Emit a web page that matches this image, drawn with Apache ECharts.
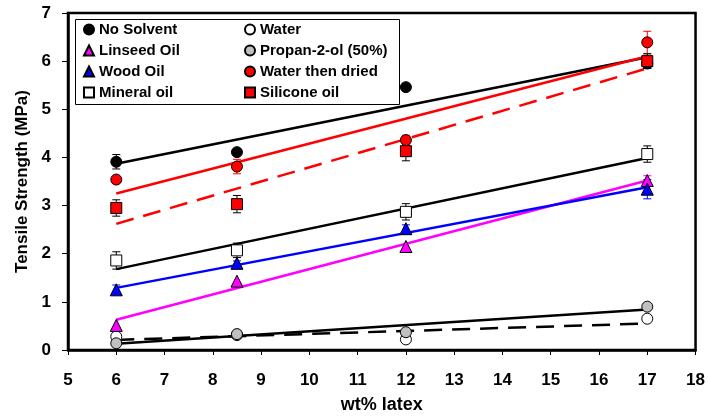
<!DOCTYPE html>
<html><head><meta charset="utf-8">
<script src="https://cdn.jsdelivr.net/npm/echarts@6/dist/echarts.min.js"></script>
<style>html,body{margin:0;padding:0;background:#fff}#c{width:708px;height:419px}</style>
</head><body><div id="c"></div>
<script>
// ---- data ----
const xs = [6, 8.5, 12, 17];
const noSolvent  = [3.91, 4.11, 5.46, 5.95];
const water      = [0.28, 0.31, 0.22, 0.65];
const linseed    = [0.51, 1.43, 2.15, 3.52];
const propanol   = [0.14, 0.33, 0.37, 0.90];
const woodOil    = [1.25, 1.80, 2.52, 3.34];
const waterDried = [3.54, 3.81, 4.36, 6.39];
const mineral    = [1.86, 2.07, 2.87, 4.07];
const silicone   = [2.95, 3.03, 4.13, 6.00];

const errNoSolvent  = [0.15, 0, 0, 0.10];
const errWater      = [0, 0, 0, 0];
const errLinseed    = [0, 0, 0, 0.10];
const errPropanol   = [0, 0, 0, 0];
const errWoodOil    = [0.10, 0.05, 0.08, 0.20];
const errWaterDried = [0, 0.15, 0.10, 0.23];
const errMineral    = [0.18, 0.15, 0.17, 0.17];
const errSilicone   = [0.17, 0.18, 0.20, 0.15];

// trend lines: values at the ends (x = 6 and x = 17)
const trendX = [6, 17];
const trendNoSolvent  = [3.87, 6.08];
const trendWater      = [0.21, 0.55];
const trendLinseed    = [0.63, 3.52];
const trendPropanol   = [0.13, 0.84];
const trendWoodOil    = [1.29, 3.38];
const trendWaterDried = [3.25, 6.10];
const trendMineral    = [1.68, 3.99];
const trendSilicone   = [2.62, 5.85];

const seriesNames = ['No Solvent','Water','Linseed Oil','Propan-2-ol (50%)','Wood Oil','Water then dried','Mineral oil','Silicone oil'];
const xTicks = [5,6,7,8,9,10,11,12,13,14,15,16,17,18];
const yTicks = [0,1,2,3,4,5,6,7];

// ---- styles ----
const defs = [
  {name:'No Solvent', y:noSolvent, e:errNoSolvent, t:trendNoSolvent, sym:'circle', fill:'#000000', ec:'#000000', lc:'#000000', lt:'solid', size:11},
  {name:'Water', y:water, e:errWater, t:trendWater, sym:'circle', fill:'#ffffff', ec:'#000000', lc:'#000000', lt:[18,10], size:11},
  {name:'Linseed Oil', y:linseed, e:errLinseed, t:trendLinseed, sym:'triangle', fill:'#ff00ff', ec:'#ff00ff', lc:'#ff00ff', lt:'solid', size:12},
  {name:'Propan-2-ol (50%)', y:propanol, e:errPropanol, t:trendPropanol, sym:'circle', fill:'#c0c0c0', ec:'#000000', lc:'#000000', lt:'solid', size:11},
  {name:'Wood Oil', y:woodOil, e:errWoodOil, t:trendWoodOil, sym:'triangle', fill:'#0000ff', ec:'#0000ff', lc:'#0000ff', lt:'solid', size:12},
  {name:'Water then dried', y:waterDried, e:errWaterDried, t:trendWaterDried, sym:'circle', fill:'#ff0000', ec:'#ff0000', lc:'#ff0000', lt:'solid', size:11},
  {name:'Mineral oil', y:mineral, e:errMineral, t:trendMineral, sym:'rect', fill:'#ffffff', ec:'#000000', lc:'#000000', lt:'solid', size:11},
  {name:'Silicone oil', y:silicone, e:errSilicone, t:trendSilicone, sym:'rect', fill:'#ff0000', ec:'#000000', lc:'#ff0000', lt:[18,10], size:11}
];

const FONT = "'Liberation Sans', Arial, sans-serif";
const series = [];
defs.forEach(d => {
  series.push({
    name: d.name + ' trend', type:'line', data: trendX.map((x,i)=>[x, d.t[i]]),
    symbol:'none', z:2, silent:true,
    lineStyle:{color:d.lc, width:2.5, type:d.lt}
  });
});
defs.forEach(d => {
  series.push({
    name: d.name + ' err', type:'custom', z:3, silent:true,
    data: xs.map((x,i)=>[x, d.y[i], d.e[i]]),
    renderItem: function(params, api){
      const x = api.value(0), y = api.value(1), e = api.value(2);
      if (!e) return null;
      const top = api.coord([x, y+e]), bot = api.coord([x, y-e]);
      const w = 4;
      const st = {stroke:d.ec, lineWidth:1};
      return {type:'group', children:[
        {type:'line', shape:{x1:top[0], y1:top[1], x2:bot[0], y2:bot[1]}, style:st},
        {type:'line', shape:{x1:top[0]-w, y1:top[1], x2:top[0]+w, y2:top[1]}, style:st},
        {type:'line', shape:{x1:bot[0]-w, y1:bot[1], x2:bot[0]+w, y2:bot[1]}, style:st}
      ]};
    }
  });
});
defs.forEach((d, k) => {
  series.push({
    name: d.name, type:'scatter', z:4 + k*0.01,
    data: xs.map((x,i)=>[x, d.y[i]]),
    symbol: d.sym, symbolSize: d.size,
    itemStyle:{color:d.fill, borderColor:'#000000', borderWidth:1, opacity:1}
  });
});

const legendText = {fontFamily:FONT, fontWeight:'bold', fontSize:15, color:'#000', lineHeight:15};
const chart = echarts.init(document.getElementById('c'), null, {renderer:'canvas'});
chart.setOption({
  animation:false,
  backgroundColor:'#ffffff',
  grid:{left:68, right:11, top:13, bottom:54, show:true, borderColor:'#000', borderWidth:2.5, backgroundColor:'transparent'},
  xAxis:{
    type:'value', min:xTicks[0], max:xTicks[xTicks.length-1], interval:1,
    name:'wt% latex', nameLocation:'middle', nameGap:46,
    nameTextStyle:{fontFamily:FONT, fontWeight:'bold', fontSize:18, color:'#000'},
    axisLine:{show:true, onZero:false, lineStyle:{color:'#000', width:2.5}},
    axisTick:{show:true, inside:false, length:5, lineStyle:{color:'#000', width:1}},
    axisLabel:{fontFamily:FONT, fontWeight:'bold', fontSize:17, color:'#000', margin:22},
    splitLine:{show:false}
  },
  yAxis:{
    type:'value', min:yTicks[0], max:yTicks[yTicks.length-1], interval:1,
    name:'Tensile Strength (MPa)', nameLocation:'middle', nameGap:37, nameRotate:90,
    nameTextStyle:{fontFamily:FONT, fontWeight:'bold', fontSize:17, color:'#000'},
    axisLine:{show:true, onZero:false, lineStyle:{color:'#000', width:2.5}},
    axisTick:{show:true, inside:false, length:6, lineStyle:{color:'#000', width:1}},
    axisLabel:{fontFamily:FONT, fontWeight:'bold', fontSize:17, color:'#000', margin:17},
    splitLine:{show:false}
  },
  legend:[
    {data:[seriesNames[0],seriesNames[2],seriesNames[4],seriesNames[6]], orient:'vertical', left:83, top:22,
     itemWidth:10, itemHeight:10, itemGap:6, padding:0, textStyle:legendText, selectedMode:false},
    {data:[seriesNames[1],seriesNames[3],seriesNames[5],seriesNames[7]], orient:'vertical', left:244, top:22,
     itemWidth:10, itemHeight:10, itemGap:6, padding:0, textStyle:legendText, selectedMode:false}
  ],
  graphic:[{type:'rect', left:73, top:17, shape:{width:324, height:85}, style:{fill:'none', stroke:'#000', lineWidth:1}, z:0}],
  series: series
});
</script></body></html>
